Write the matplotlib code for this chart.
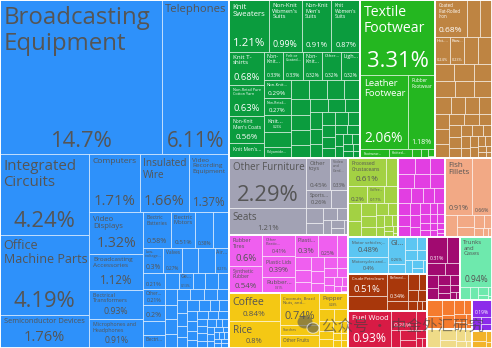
import re
import numpy as np
import matplotlib.pyplot as plt
from matplotlib.patches import Rectangle, Ellipse
from matplotlib.textpath import TextPath
from matplotlib.font_manager import FontProperties

plt.rcParams['font.family'] = ['Open Sans', 'DejaVu Sans']

W, H = 492, 348   # canvas, pixels

# export shares (%) per HS section, products in drawing order
# names: None = no text, "" = share only; names shorter than values -> rest unlabeled

machines_names = ["Broadcasting Equipment", "Telephones",
                  "Integrated Circuits", "Office Machine Parts", "Semiconductor Devices",
                  "Computers", "Insulated Wire", "Video Recording Equipment",
                  "Video Displays", "Broadcasting Accessories", "Electrical Transformers",
                  "Microphones and Headphones",
                  "Electric Batteries", "Electric Motors", "", None,
                  "Low-voltage...", "Valves", None, None, "Air...",
                  "", "Other...", "", None, "Electri...",
                  None, "Ge..."]
machines_vals = [14.7, 6.11,
                 4.24, 4.19, 1.76,
                 1.71, 1.66, 1.37,
                 1.32, 1.12, 0.93, 0.91,
                 0.58, 0.51, 0.38, 0.33,
                 0.3, 0.27, 0.24, 0.24, 0.21,
                 0.21, 0.21, 0.2, 0.18, 0.17,
                 0.14, 0.13, 0.12, 0.12, 0.11,
                 0.11, 0.1, 0.1, 0.1, 0.09, 0.09, 0.09, 0.08, 0.08, 0.08,
                 0.07, 0.07, 0.07, 0.07, 0.06, 0.06, 0.06, 0.06,
                 0.05, 0.05, 0.05, 0.05, 0.05, 0.04, 0.04, 0.04, 0.04, 0.04,
                 0.03, 0.03, 0.03, 0.03, 0.03, 0.03,
                 0.02, 0.02, 0.02, 0.02, 0.02, 0.02, 0.02, 0.02]
machines_rows = [2, 3, 3, 4, 4, 5, 5, 5]

textiles_names = ["Knit Sweaters", "Non-Knit Women's Suits", "Non-Knit Men's Suits",
                  "Knit Women's Suits",
                  "Knit T-shirts", "Non-Retail Pure Cotton Yarn", "Non-Knit Men's Coats",
                  "Knit Men's...",
                  "Non-Knit...", "Felt or Coated...", "Non-Knit...", "Other...", "Ligh...",
                  "Non-Knit...", "Non-Retail...", "Knit...", None, "Polyamide..."]
textiles_vals = [1.21, 0.99, 0.91, 0.87,
                 0.68, 0.63, 0.56, 0.3,
                 0.33, 0.33, 0.32, 0.32, 0.32,
                 0.29, 0.27, 0.26, 0.25, 0.17,
                 0.2, 0.2, 0.19, 0.18, 0.18, 0.17, 0.16, 0.15, 0.14, 0.13,
                 0.12, 0.12, 0.11, 0.1, 0.1, 0.1, 0.09, 0.09, 0.08, 0.08,
                 0.07, 0.07, 0.06, 0.06, 0.05, 0.05, 0.04, 0.04, 0.03, 0.03]
textiles_rows = [4, 4, 5, 5]

footwear_names = ["Textile Footwear", "Leather Footwear", "Rubber Footwear",
                  "Footwear...", "Knitted..."]
footwear_vals = [3.31, 2.06, 1.18, 0.16, 0.13, 0.05, 0.04, 0.03, 0.01]
footwear_rows = [1, 2, 1, 1]

metals_names = ["Coated Flat-Rolled Iron", None, None, "Hot-...", "Raw..."]
metals_vals = [0.68, 0.3, 0.25,
               0.24, 0.23, 0.22, 0.22,
               0.2, 0.2, 0.19, 0.18, 0.17, 0.16, 0.16, 0.15, 0.14, 0.13,
               0.12, 0.12, 0.11, 0.1, 0.1, 0.09, 0.09, 0.08, 0.08, 0.07,
               0.07, 0.06, 0.06, 0.05, 0.05, 0.05, 0.04, 0.04, 0.03, 0.03, 0.02, 0.02]
metals_rows = [3, 4]

furniture_names = ["Other Furniture", "Seats", "Other toys", "Video and Card...", "Sports..."]
furniture_vals = [2.29, 1.21, 0.45, 0.33, 0.26, 0.18, 0.15, 0.12, 0.1, 0.08, 0.07, 0.06,
                  0.05, 0.04]
furniture_rows = [2, 2]

plastics_names = ["Rubber Tires", "Synthetic Rubber", "Other Plastic...", "Plastic Lids",
                  "Rubber...", "Plasti...", ""]
plastics_vals = [0.6, 0.54, 0.41, 0.39, 0.31, 0.3, 0.25, 0.15,
                 0.12, 0.11, 0.1, 0.1, 0.09, 0.08, 0.08, 0.07, 0.07, 0.06, 0.05, 0.05,
                 0.04, 0.03, 0.03, 0.02, 0.01]
plastics_rows = [2, 3, 3]

vegetables_names = ["Coffee", "Rice", "Coconuts, Brazil Nuts, and...", "Starches",
                    "Other Fruits", "Pepper"]
vegetables_vals = [0.84, 0.8, 0.74, 0.23, 0.3, 0.28,
                   0.1, 0.09, 0.08, 0.07, 0.07, 0.06, 0.05, 0.04, 0.04, 0.03, 0.03]
vegetables_rows = [2, 3, 1]

foodstuffs_names = ["Processed Crustaceans", None, "", "Coffee..."]
foodstuffs_vals = [0.61, 0.2, 0.2, 0.17, 0.15, 0.13, 0.12, 0.11, 0.1, 0.09, 0.08, 0.07,
                   0.06, 0.05, 0.05, 0.04, 0.03, 0.03, 0.02, 0.01]
foodstuffs_rows = [2]

instruments_vals = [0.16, 0.15, 0.14, 0.13, 0.13, 0.12, 0.11, 0.1, 0.1, 0.09, 0.09, 0.08,
                    0.08, 0.07, 0.07, 0.06, 0.06, 0.05, 0.05, 0.05, 0.04, 0.04, 0.04, 0.04,
                    0.03, 0.03, 0.03, 0.02, 0.02]

animal_names = ["Fish Fillets", ""]
animal_vals = [0.91, 0.66, 0.15, 0.12, 0.1, 0.08, 0.06, 0.05, 0.03, 0.02]
animal_rows = [2]

transport_names = ["Motor vehicles;...", "Motorcycles and...", "Gl..."]
transport_vals = [0.48, 0.4, 0.26, 0.1, 0.09, 0.08, 0.07, 0.06, 0.06, 0.05, 0.04, 0.03]
transport_rows = [2]

minerals_names = ["Crude Petroleum", None, "Refined..."]
minerals_vals = [0.51, 0.33, 0.34, 0.12, 0.1, 0.08, 0.07, 0.06, 0.05, 0.03, 0.03]
minerals_rows = [2]

wood_names = ["Fuel Wood", ""]
wood_vals = [0.93, 0.28, 0.13, 0.1, 0.09, 0.07, 0.05, 0.04, 0.03]
wood_rows = [1]

chemicals_names = [""]
chemicals_vals = [0.31, 0.2, 0.12, 0.1, 0.09, 0.08, 0.07, 0.06, 0.05, 0.05, 0.04, 0.03, 0.02]
chemicals_rows = [2]

hides_names = ["Trunks and Cases"]
hides_vals = [0.94, 0.08, 0.06, 0.05, 0.03, 0.02, 0.01]
hides_rows = [1]

stone_vals = [0.14, 0.12, 0.1, 0.09, 0.08, 0.07, 0.06, 0.05, 0.04, 0.02]
paper_vals = [0.15, 0.1, 0.08, 0.06, 0.05, 0.04, 0.03]
violet_names = [""]
violet_vals = [0.19, 0.07, 0.05, 0.04]
gold_vals = [0.08, 0.06, 0.04, 0.02]

DARK = '#555555'
sections = [
    (machines_names, machines_vals, machines_rows, '#2e91fa', DARK),
    (textiles_names, textiles_vals, textiles_rows, '#0b9c3e', 'white'),
    (footwear_names, footwear_vals, footwear_rows, '#24b720', 'white'),
    (metals_names, metals_vals, metals_rows, '#be8442', 'white'),
    (furniture_names, furniture_vals, furniture_rows, '#a2a2b4', DARK),
    (plastics_names, plastics_vals, plastics_rows, '#ef5fef', DARK),
    (vegetables_names, vegetables_vals, vegetables_rows, '#f4c814', DARK),
    (foodstuffs_names, foodstuffs_vals, foodstuffs_rows, '#a3d143', DARK),
    ([], instruments_vals, [], '#e23ee2', 'white'),
    (animal_names, animal_vals, animal_rows, '#f2a985', DARK),
    (transport_names, transport_vals, transport_rows, '#5cc6f2', DARK),
    (minerals_names, minerals_vals, minerals_rows, '#a8370b', 'white'),
    (wood_names, wood_vals, wood_rows, '#d81b45', 'white'),
    (chemicals_names, chemicals_vals, chemicals_rows, '#a10a70', 'white'),
    (hides_names, hides_vals, hides_rows, '#6ee9ad', DARK),
    ([], stone_vals, [], '#f57b2e', 'white'),
    ([], paper_vals, [], '#efdb88', DARK),
    (violet_names, violet_vals, [], '#8c2bea', 'white'),
    ([], gold_vals, [], '#f2b32a', DARK),
]
top_rows = [1, 3, 3, 3, 3, 2, 2, 1, 1]


def strip(rect, vals, total):
    x, y, w, h = rect
    s = sum(vals)
    out = []
    if w >= h:
        cw = w * s / total
        yy = y
        for v in vals:
            out.append((x, yy, cw, h * v / s))
            yy += h * v / s
        return out, (x + cw, y, w - cw, h)
    rh = h * s / total
    xx = x
    for v in vals:
        out.append((xx, y, w * v / s, rh))
        xx += w * v / s
    return out, (x, y + rh, w, h - rh)


def worst(row, side, scale):
    areas = [v * scale for v in row]
    s = sum(areas)
    return max(max(side ** 2 * a / s ** 2, s ** 2 / (side ** 2 * a)) for a in areas)


def layout(rect, vals, rows):
    cells = []
    i = 0
    total = sum(vals)
    for n in rows:
        part = vals[i:i + n]
        out, rect = strip(rect, part, total)
        cells += out
        total -= sum(part)
        i += n
    rest = list(vals[i:])
    while rest:
        x, y, w, h = rect
        total = sum(rest)
        side = min(w, h)
        scale = w * h / total
        k = 1
        best = worst(rest[:1], side, scale)
        while k < len(rest):
            r = worst(rest[:k + 1], side, scale)
            if r > best:
                break
            best = r
            k += 1
        out, rect = strip(rect, rest[:k], total)
        cells += out
        rest = rest[k:]
    return cells


fp = FontProperties(family='Open Sans')
_em = {}


def em(s):
    if s not in _em:
        _em[s] = TextPath((0, 0), s, size=100, prop=fp).get_extents().width / 100
    return _em[s]


def join(a, b):
    return a + b if a.endswith('-') else a + ' ' + b


def wrap(tokens, px, maxw, strict=True):
    lines, cur = [], ''
    for tk in tokens:
        if strict and em(tk) * px > maxw:
            return None
        t = tk if not cur else join(cur, tk)
        if em(t) * px <= maxw:
            cur = t
        else:
            if cur:
                lines.append(cur)
            cur = tk
    lines.append(cur)
    return lines


def fit_name(name, aw, h):
    tokens = [t for t in re.split(r'\s+|(?<=-)(?=\w)', name) if t]
    for px in np.arange(24, 3.5, -0.25):
        lines = wrap(tokens, px, aw)
        if lines and len(lines) * 1.2 * px <= 0.45 * h:
            return px, lines
    return 3.5, wrap(tokens, 3.5, aw, strict=False)


fig = plt.figure(figsize=(4.92, 3.48), dpi=100)
ax = fig.add_axes([0, 0, 1, 1])
ax.set_xlim(0, W)
ax.set_ylim(H, 0)
ax.axis('off')

sec_totals = [sum(s[1]) for s in sections]
sec_rects = layout((0, 0, W, H), sec_totals, top_rows)

for (names, vals, rows, fc, tc), srect in zip(sections, sec_rects):
    cells = layout(srect, vals, rows)
    for j, ((x, y, w, h), v) in enumerate(zip(cells, vals)):
        box = Rectangle((x, y), w, h, facecolor=fc, edgecolor=(1, 1, 1, 0.6), lw=0.6)
        ax.add_patch(box)
        if j >= len(names) or names[j] is None:
            continue
        pad = min(3.5, 0.12 * w)
        aw = w - 2 * pad
        nb = 0
        if names[j]:
            npx, lines = fit_name(names[j], aw, h)
            t = ax.text(x + pad, y + pad * 0.7 + 0.15 * npx, '\n'.join(lines),
                        fontsize=npx * 0.72, color=tc, ha='left', va='top',
                        linespacing=1.1)
            t.set_clip_path(box)
            nb = len(lines) * 1.15 * npx + 0.5 * pad
        share = f'{v:.3g}%'
        spx = min(22, 0.75 * (h - nb - pad), 0.92 * aw / em(share))
        if spx >= 3:
            t = ax.text(x + w / 2, y + h - pad * 0.8, share, fontsize=spx * 0.72,
                        color=tc, ha='center', va='bottom')
            t.set_clip_path(box)
    x, y, w, h = srect
    ax.add_patch(Rectangle((x, y), w, h, facecolor='none', edgecolor='white', lw=1.3))

# watermark
ax.add_patch(Ellipse((305, 322), 15, 13, color='#555555', alpha=0.6, lw=0))
ax.add_patch(Ellipse((313, 328), 12, 10.5, facecolor='#555555', edgecolor='white',
                     alpha=0.6, lw=0.8))
ax.text(322, 326, '公众号 · 中金外汇研究', family=['Noto Sans CJK SC', 'DejaVu Sans'],
        fontsize=11.2, color='#404040', alpha=0.6, ha='left', va='center')

fig.savefig('out.png', dpi=100)
